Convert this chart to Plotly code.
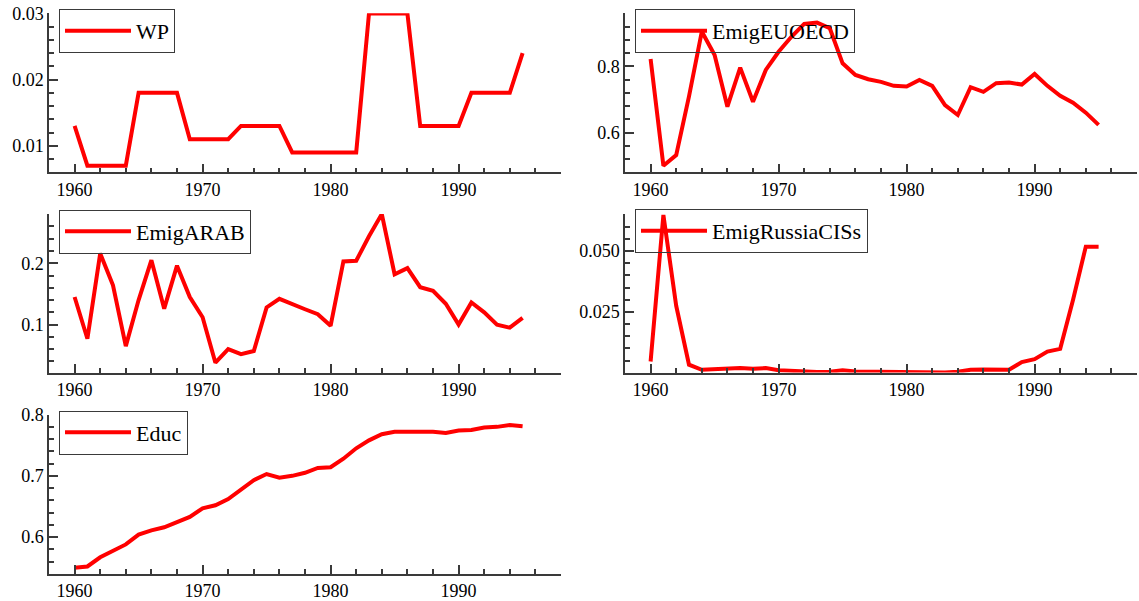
import plotly.graph_objects as go

years = list(range(1960, 1996))

wp = [0.013, 0.007, 0.007, 0.007, 0.007, 0.018, 0.018, 0.018, 0.018, 0.011,
      0.011, 0.011, 0.011, 0.013, 0.013, 0.013, 0.013, 0.009, 0.009, 0.009,
      0.009, 0.009, 0.009, 0.030, 0.030, 0.030, 0.030, 0.013, 0.013, 0.013,
      0.013, 0.018, 0.018, 0.018, 0.018, 0.024]

emig_euoecd = [0.822, 0.500, 0.532, 0.709, 0.905, 0.834, 0.678, 0.796, 0.693, 0.789,
               0.844, 0.889, 0.928, 0.932, 0.915, 0.809, 0.774, 0.761, 0.753, 0.741,
               0.739, 0.759, 0.741, 0.683, 0.653, 0.737, 0.723, 0.749, 0.751, 0.745,
               0.777, 0.741, 0.711, 0.690, 0.660, 0.623]

emig_arab = [0.145, 0.077, 0.216, 0.164, 0.065, 0.140, 0.205, 0.126, 0.196, 0.145,
             0.112, 0.038, 0.060, 0.052, 0.057, 0.128, 0.142, 0.133, 0.125, 0.117,
             0.098, 0.203, 0.204, 0.244, 0.280, 0.182, 0.192, 0.161, 0.155, 0.134,
             0.100, 0.136, 0.120, 0.100, 0.095, 0.111]

emig_russia = [0.0046, 0.0648, 0.0275, 0.0033, 0.0012, 0.0015, 0.0019, 0.0019, 0.0016, 0.0019,
               0.0010, 0.0007, 0.0004, 0.0003, 0.0004, 0.0010, 0.0005, 0.0004, 0.0003, 0.0003,
               0.0003, 0.0001, 0.0001, 0.0001, 0.0004, 0.0012, 0.0013, 0.0011, 0.0012, 0.0044,
               0.0056, 0.0087, 0.0098, 0.0299, 0.0518, 0.0518]

educ = [0.550, 0.552, 0.567, 0.577, 0.588, 0.604, 0.611, 0.616, 0.625, 0.633,
        0.647, 0.652, 0.662, 0.678, 0.693, 0.703, 0.697, 0.700, 0.705, 0.713,
        0.714, 0.728, 0.745, 0.758, 0.768, 0.772, 0.772, 0.771, 0.772, 0.770,
        0.774, 0.775, 0.779, 0.780, 0.783, 0.781]

names = ["WP", "EmigEUOECD", "EmigARAB", "EmigRussiaCISs", "Educ"]
series = [wp, emig_euoecd, emig_arab, emig_russia, educ]
y_ranges = [[0.006, 0.03002], [0.48, 0.96], [0.022, 0.2802], [0.0001, 0.0652], [0.5405, 0.8002]]
y_dticks = [0.01, 0.2, 0.1, 0.025, 0.1]
y_minor = [0.002, 0.04, 0.02, 0.005, 0.02]
y_formats = [".2f", ".1f", ".1f", ".3f", ".1f"]

W, H = 1139, 601
# panel boxes in pixels: (left, right, top, bottom)
boxes = [(49, 561, 13.3, 172.3), (625, 1137, 13.3, 172.3),
         (49, 561, 214, 372.5), (625, 1137, 214, 372.5),
         (49, 561, 414.5, 573.5)]
# vertical centre of each legend box, in pixels from the top
legend_mid = [31, 31, 231.5, 231, 432.5]

AX = "#3a3a3a"
SERIF = "Liberation Serif"

fig = go.Figure()
layout = dict(width=W, height=H, autosize=False,
              margin=dict(l=0, r=0, t=0, b=0, autoexpand=False),
              paper_bgcolor="white", plot_bgcolor="white",
              showlegend=True)

for i, (nm, vals, box) in enumerate(zip(names, series, boxes)):
    k = i + 1
    sfx = "" if k == 1 else str(k)
    leg = "legend" + sfx
    fig.add_trace(go.Scatter(x=years, y=vals, mode="lines", name=nm,
                             line=dict(color="#ff0000", width=4),
                             xaxis="x" + sfx, yaxis="y" + sfx,
                             legend=leg))
    l, r, t, b = box
    layout["xaxis" + sfx] = dict(
        domain=[l / W, r / W], anchor="y" + sfx, range=[1958, 1998],
        showline=True, linecolor=AX, linewidth=1.5,
        ticks="inside", ticklen=9, tickwidth=1.5, tickcolor=AX,
        tick0=1960, dtick=10, automargin=False,
        minor=dict(tick0=1960, dtick=2, ticks="inside", ticklen=5,
                   tickwidth=1.5, tickcolor=AX, showgrid=False),
        showgrid=False, zeroline=False,
        tickfont=dict(family=SERIF, size=18, color="black"))
    layout["yaxis" + sfx] = dict(
        domain=[1 - b / H, 1 - t / H], anchor="x" + sfx, range=y_ranges[i],
        showline=True, linecolor=AX, linewidth=1.5,
        ticks="inside", ticklen=9, tickwidth=1.5, tickcolor=AX,
        tick0=0, dtick=y_dticks[i], tickformat=y_formats[i], automargin=False,
        minor=dict(tick0=0, dtick=y_minor[i], ticks="inside", ticklen=5,
                   tickwidth=1.5, tickcolor=AX, showgrid=False),
        showgrid=False, zeroline=False,
        tickfont=dict(family=SERIF, size=18, color="black"))
    layout[leg] = dict(
        x=(l + 10) / W, y=1 - legend_mid[i] / H, xanchor="left", yanchor="middle",
        bgcolor="rgba(0,0,0,0)", bordercolor=AX, borderwidth=1,
        font=dict(family=SERIF, size=22, color="black"),
        itemwidth=66, tracegroupgap=0)

fig.update_layout(**layout)
fig.write_html(
    "out.html",
    config={"displayModeBar": False},
    post_script=("document.documentElement.style.margin='0';"
                 "document.body.style.margin='0';"
                 "document.body.style.padding='0';"
                 "document.body.style.overflow='hidden';"
                 "var gd=document.getElementById('{plot_id}');"
                 "gd.style.position='fixed';gd.style.left='0px';gd.style.top='0px';"))
